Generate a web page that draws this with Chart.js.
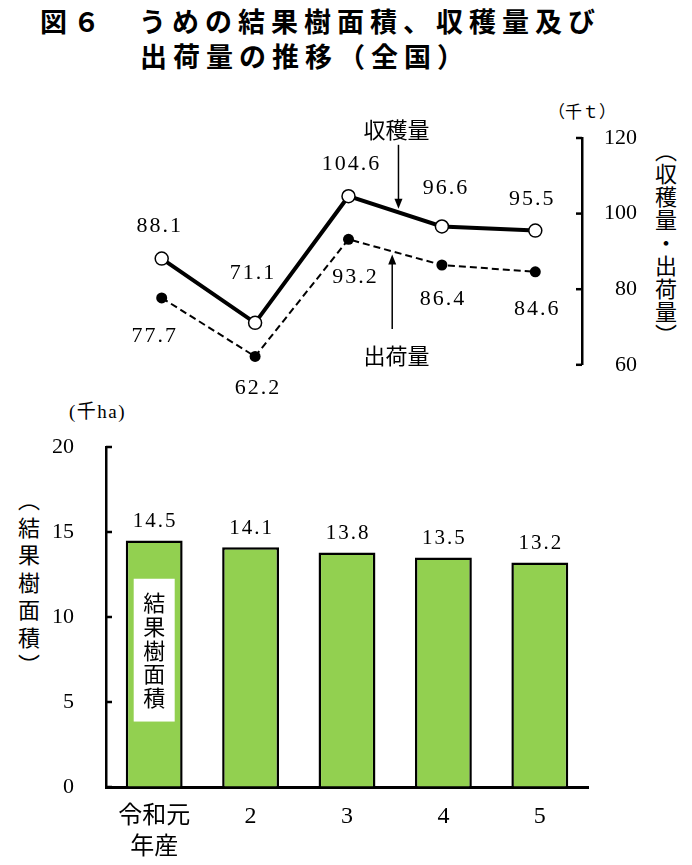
<!DOCTYPE html>
<html>
<head>
<meta charset="utf-8">
<script src="https://cdn.jsdelivr.net/npm/chart.js@4.4.1/dist/chart.umd.min.js"></script>
<style>
html,body{margin:0;padding:0;background:#fff;}
body{width:692px;height:865px;position:relative;overflow:hidden;}
.t{position:absolute;white-space:nowrap;color:#000;line-height:1;}
.title{font-family:"Noto Sans CJK JP",sans-serif;font-weight:bold;font-size:27px;letter-spacing:6px;}
.vert{writing-mode:vertical-rl;font-family:"Noto Sans CJK JP",sans-serif;font-size:22px;}
canvas{position:absolute;left:0;}
</style>
</head>
<body>
<div class="t title" style="left:40px;top:7px;">図６　うめの結果樹面積、収穫量及び</div>
<div class="t title" style="left:140px;top:42px;">出荷量の推移（全国）</div>

<div class="t" style="left:548px;top:102px;font-family:'Noto Sans CJK JP';font-size:17px;letter-spacing:0px;">（千ｔ）</div>
<div class="t vert" style="left:655px;top:140px;letter-spacing:1px;">（収穫量・出荷量）</div>

<div class="t" style="left:69px;top:402px;font-family:'Liberation Serif','Noto Sans CJK JP';font-size:19px;letter-spacing:1.5px;">(千ha)</div>
<div class="t vert" style="left:18px;top:489px;letter-spacing:5.5px;">（結果樹面積）</div>

<canvas id="c1" width="692" height="400" style="top:0;width:692px;height:400px;"></canvas>
<canvas id="c2" width="692" height="465" style="top:400px;width:692px;height:465px;"></canvas>

<script>
// ---- data ----
const categories = [["令和元", "年産"], "2", "3", "4", "5"];
const harvest = [88.1, 71.1, 104.6, 96.6, 95.5];     // 収穫量 (千t)
const shipment = [77.7, 62.2, 93.2, 86.4, 84.6];     // 出荷量 (千t)
const area = [14.5, 14.1, 13.8, 13.5, 13.2];         // 結果樹面積 (千ha)
const lineTicks = [60, 80, 100, 120];
const barTicks = [0, 5, 10, 15, 20];

const NUM_FONT = '"Liberation Serif", "Noto Sans CJK JP", serif';
const JP_FONT = '"Noto Sans CJK JP", sans-serif';

// label placement offsets (pixels, relative to point)
const harvestLabelOff = [[-3, -32], [-3, -50], [2, -32], [3, -38], [-4, -31]];
const shipLabelOff = [[-8, 38], [2, 32], [6, 38], [0, 34], [1, 37]];

function drawArrow(ctx, x, yFrom, yTip) {
  const dir = Math.sign(yTip - yFrom);
  ctx.beginPath();
  ctx.moveTo(x, yFrom);
  ctx.lineTo(x, yTip - dir * 8);
  ctx.stroke();
  ctx.beginPath();
  ctx.moveTo(x, yTip);
  ctx.lineTo(x - 4, yTip - dir * 10);
  ctx.lineTo(x + 4, yTip - dir * 10);
  ctx.closePath();
  ctx.fill();
}

function inwardTicks(chart, axisX, dir) {
  const ys = chart.scales.y;
  const ctx = chart.ctx;
  ctx.save();
  ctx.strokeStyle = '#000';
  ctx.lineWidth = 2.5;
  ys.ticks.forEach(t => {
    const py = ys.getPixelForValue(t.value);
    ctx.beginPath();
    ctx.moveTo(axisX, py);
    ctx.lineTo(axisX + dir * 6, py);
    ctx.stroke();
  });
  ctx.restore();
}

function numLabel(ctx, text, x, y) {
  ctx.letterSpacing = '2px';
  ctx.fillText(text, x + 1, y);
  ctx.letterSpacing = '0px';
}

const linePlugin = {
  id: 'lineDecor',
  afterDraw(chart) {
    const ctx = chart.ctx;
    const xs = chart.scales.x, ys = chart.scales.y;
    inwardTicks(chart, chart.chartArea.right, -1);
    ctx.save();
    ctx.fillStyle = '#000';
    ctx.font = '22px ' + NUM_FONT;
    ctx.textAlign = 'center';
    ctx.textBaseline = 'middle';
    chart.getDatasetMeta(0).data.forEach((p, i) => {
      numLabel(ctx, harvest[i].toFixed(1), p.x + harvestLabelOff[i][0], p.y + harvestLabelOff[i][1]);
    });
    chart.getDatasetMeta(1).data.forEach((p, i) => {
      numLabel(ctx, shipment[i].toFixed(1), p.x + shipLabelOff[i][0], p.y + shipLabelOff[i][1]);
    });
    // annotations
    ctx.font = '22px ' + JP_FONT;
    ctx.fillText('収穫量', xs.getPixelForValue(2.514), ys.getPixelForValue(122.1));
    ctx.fillText('出荷量', xs.getPixelForValue(2.514), ys.getPixelForValue(62.4));
    ctx.strokeStyle = '#000';
    ctx.lineWidth = 1.5;
    drawArrow(ctx, xs.getPixelForValue(2.535), ys.getPixelForValue(118.2), ys.getPixelForValue(101.3));
    drawArrow(ctx, xs.getPixelForValue(2.468), ys.getPixelForValue(69.5), ys.getPixelForValue(89.2));
    ctx.restore();
  }
};

new Chart(document.getElementById('c1'), {
  type: 'line',
  data: {
    labels: categories,
    datasets: [
      {
        label: '収穫量', data: harvest,
        borderColor: '#000', borderWidth: 4,
        pointRadius: 6.5, pointBackgroundColor: '#fff', pointBorderColor: '#000', pointBorderWidth: 1.5,
        tension: 0, clip: false
      },
      {
        label: '出荷量', data: shipment,
        borderColor: '#000', borderWidth: 2, borderDash: [7, 4],
        pointRadius: 5.5, pointBackgroundColor: '#000', pointBorderColor: '#000', pointBorderWidth: 0,
        tension: 0, clip: false
      }
    ]
  },
  options: {
    responsive: false, animation: false,
    layout: { padding: { left: 115, right: 55, top: 138, bottom: 34 } },
    plugins: { legend: { display: false }, tooltip: { enabled: false } },
    scales: {
      x: { type: 'category', offset: true, display: false },
      y: {
        position: 'right', min: 60, max: 120,
        afterBuildTicks: (s) => { s.ticks = lineTicks.map(v => ({ value: v })); },
        afterFit: (s) => { s.width = 55; },
        grid: { display: true, drawOnChartArea: false, drawTicks: false },
        border: { display: true, color: '#000', width: 2.5 },
        ticks: { color: '#000', padding: 22, crossAlign: 'far', font: { size: 22, family: NUM_FONT } }
      }
    }
  },
  plugins: [linePlugin]
});

const barPlugin = {
  id: 'barDecor',
  afterDraw(chart) {
    const ctx = chart.ctx;
    const ys = chart.scales.y;
    inwardTicks(chart, chart.chartArea.left, 1);
    ctx.save();
    ctx.fillStyle = '#000';
    ctx.font = '21px ' + NUM_FONT;
    ctx.textAlign = 'center';
    ctx.textBaseline = 'middle';
    const bars = chart.getDatasetMeta(0).data;
    bars.forEach((b, i) => {
      numLabel(ctx, area[i].toFixed(1), b.x, b.y - 19);
    });
    // white legend box inside first bar
    const b0 = bars[0];
    const top = ys.getPixelForValue(12.25), bot = ys.getPixelForValue(3.85);
    ctx.fillStyle = '#fff';
    ctx.fillRect(b0.x - 20.5, top, 41, bot - top);
    ctx.fillStyle = '#000';
    ctx.font = '22px ' + JP_FONT;
    const chars = ['結', '果', '樹', '面', '積'];
    const pitch = (bot - top - 24.2 * 2) / (chars.length - 1);
    chars.forEach((c, i) => ctx.fillText(c, b0.x, top + 24.2 + i * pitch));
    ctx.restore();
  }
};

new Chart(document.getElementById('c2'), {
  type: 'bar',
  data: {
    labels: categories,
    datasets: [{
      label: '結果樹面積', data: area,
      backgroundColor: '#92D050', borderColor: '#000', borderWidth: 2.5,
      barPercentage: 0.59, categoryPercentage: 1
    }]
  },
  options: {
    responsive: false, animation: false,
    layout: { padding: { left: 0, right: 104, top: 47, bottom: 0 } },
    plugins: { legend: { display: false }, tooltip: { enabled: false } },
    scales: {
      x: {
        afterFit: (s) => { s.height = 78; },
        grid: { display: true, drawOnChartArea: false, drawTicks: false },
        border: { display: true, color: '#000', width: 3 },
        ticks: { color: '#000', padding: 14, maxRotation: 0, font: { size: 24, family: NUM_FONT, lineHeight: 1.3 } }
      },
      y: {
        min: 0, max: 20,
        afterBuildTicks: (s) => { s.ticks = barTicks.map(v => ({ value: v })); },
        afterFit: (s) => { s.width = 106; },
        grid: { display: true, drawOnChartArea: false, drawTicks: false },
        border: { display: true, color: '#000', width: 2.5 },
        ticks: { color: '#000', padding: 32, font: { size: 22, family: NUM_FONT } }
      }
    }
  },
  plugins: [barPlugin]
});
</script>
</body>
</html>
